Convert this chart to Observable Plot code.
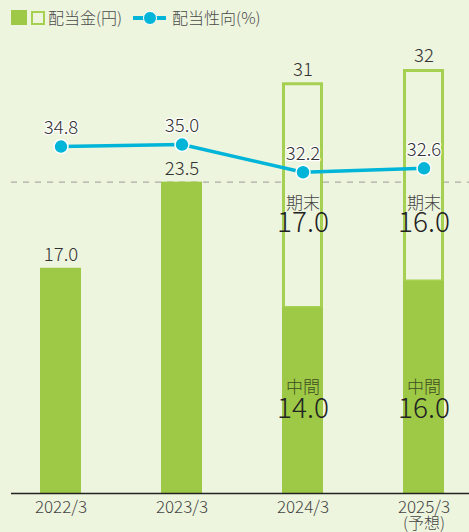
<!DOCTYPE html>
<html>
<head>
<meta charset="utf-8">
<script src="https://cdn.jsdelivr.net/npm/d3@7"></script>
<script src="https://cdn.jsdelivr.net/npm/@observablehq/plot@0.6"></script>
<style>
  html, body { margin: 0; padding: 0; background: #eef5df; }
  body { width: 469px; height: 532px; position: relative; overflow: hidden; font-family: "Noto Sans CJK JP", "Noto Sans", sans-serif; }
  #legend { position: absolute; left: 11px; top: 10px; display: flex; align-items: center; font-size: 16px; font-weight: 300; color: #4a4a4a; line-height: 15px; }
  .sw-solid { width: 16px; height: 15px; background: #9dc946; }
  .sw-outline { width: 10px; height: 10px; border: 2.5px solid #a6d052; margin-left: 4px; }
  .sw-line { position: relative; width: 33px; height: 15px; margin-left: 13px; }
  .sw-line::before { content: ""; position: absolute; left: 0; right: 0; top: 5.5px; height: 4px; background: #00b5d8; }
  .sw-line::after { content: ""; position: absolute; left: 10px; top: 0.5px; width: 12px; height: 12px; border-radius: 50%; background: #00b5d8; border: 1.2px solid #fff; }
  #chart { position: absolute; left: 0; top: 0; }
</style>
</head>
<body>
<div id="legend">
  <span class="sw-solid"></span><span class="sw-outline"></span><span style="margin-left:3px">配当金(円)</span>
  <span class="sw-line" style="margin-left:11px"></span><span style="margin-left:6px">配当性向(%)</span>
</div>
<div id="chart"></div>
<script>
// ---- data ----
const years = ["2022/3", "2023/3", "2024/3", "2025/3"];
const yearNotes = ["", "", "", "(予想)"];
const annualDividend = [17.0, 23.5, null, null];
const interimDividend = [null, null, 14.0, 16.0];
const yearEndDividend = [null, null, 17.0, 16.0];
const totalDividend = [17.0, 23.5, 31, 32];
const totalLabels = ["17.0", "23.5", "31", "32"];
const payoutRatio = [34.8, 35.0, 32.2, 32.6];
const referenceLevel = 23.5;

// ---- derived table ----
const rows = years.map((year, i) => ({
  year,
  note: yearNotes[i],
  solid: annualDividend[i] ?? interimDividend[i],
  interim: interimDividend[i],
  yearEnd: yearEndDividend[i],
  total: totalDividend[i],
  totalLabel: totalLabels[i],
  payout: payoutRatio[i]
}));
const split = rows.filter(d => d.interim != null);

// secondary (payout %) scale expressed in dividend units
const y2 = d3.scaleLinear().domain([0, 10]).range([0.21, 0.21 + 7.464]);

const green = "#9dc946";
const greenLight = "#a6d052";
const cyan = "#00b5d8";
const bg = "#eef5df";
const font = "Noto Sans CJK JP";
const light = 300;

const chart = Plot.plot({
  width: 469,
  height: 532,
  marginLeft: 11,
  marginRight: 0,
  marginTop: 0,
  marginBottom: 0,
  style: { background: "transparent", fontFamily: font },
  x: { type: "band", domain: years, range: [0, 484], paddingInner: 0.66, paddingOuter: 0.33, axis: null },
  y: { domain: [0, 35], range: [493, 493 - 35 * 13.25], axis: null },
  marks: [
    Plot.ruleY([referenceLevel], { stroke: "#a9aca4", strokeWidth: 1.2, strokeDasharray: "6,6" }),
    // year-end (outlined) segments
    Plot.barY(split, { x: "year", y1: "interim", y2: "total", fill: bg, stroke: greenLight, strokeWidth: 3, insetLeft: 1.5, insetRight: 1.5, insetTop: 1.5 }),
    // solid bars (annual / interim)
    Plot.barY(rows, { x: "year", y1: 0, y2: "solid", fill: green }),
    Plot.ruleY([0], { stroke: "#222", strokeWidth: 1.5 }),
    // total labels
    Plot.text(rows, { x: "year", y: "total", text: "totalLabel", dy: -13, fontSize: 18.5, fontWeight: light, fill: "#333", fontFamily: font }),
    // year-end labels
    Plot.text(split, { x: "year", y: 21.9, text: () => "期末", fontSize: 17, fontWeight: light, fill: "#444", fontFamily: font }),
    Plot.text(split, { x: "year", y: 20.4, text: d => d.yearEnd.toFixed(1), fontSize: 28, fontWeight: light, fill: "#222", fontFamily: font }),
    // interim labels
    Plot.text(split, { x: "year", y: 8.0, text: () => "中間", fontSize: 17, fontWeight: light, fill: "#3f4d22", fontFamily: font }),
    Plot.text(split, { x: "year", y: 6.4, text: d => d.interim.toFixed(1), fontSize: 28, fontWeight: light, fill: "#222", fontFamily: font }),
    // payout ratio line
    Plot.line(rows, { x: "year", y: d => y2(d.payout), stroke: cyan, strokeWidth: 3.5 }),
    Plot.dot(rows, { x: "year", y: d => y2(d.payout), r: 7, fill: cyan, stroke: "white", strokeWidth: 1.5 }),
    Plot.text(rows, { x: "year", y: d => y2(d.payout), text: d => d.payout.toFixed(1), dy: -18, fontSize: 18.5, fontWeight: light, fill: "#333", stroke: "white", strokeWidth: 2.5, fontFamily: font }),
    // x tick labels
    Plot.text(rows, { x: "year", y: 0, text: "year", dy: 14, fontSize: 17, fontWeight: light, fill: "#444", fontFamily: font }),
    Plot.text(rows.filter(d => d.note), { x: "year", y: 0, text: "note", dy: 30, fontSize: 16, fontWeight: light, fill: "#444", fontFamily: font })
  ]
});
document.getElementById("chart").appendChild(chart);
</script>
</body>
</html>
